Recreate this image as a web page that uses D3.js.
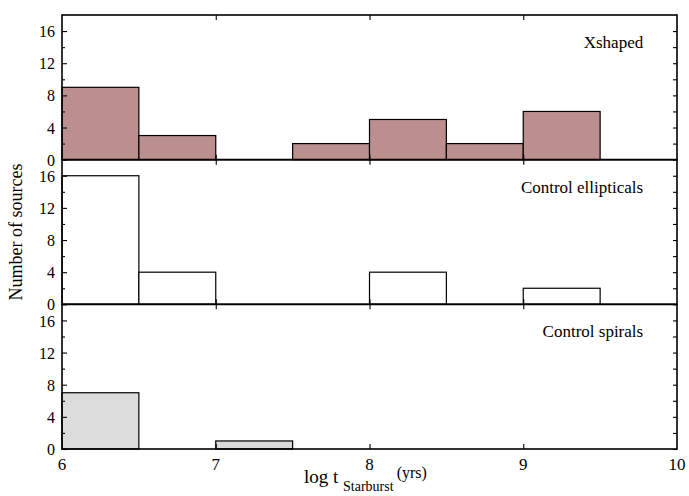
<!DOCTYPE html>
<html>
<head>
<meta charset="utf-8">
<script src="https://cdn.jsdelivr.net/npm/d3@7"></script>
<style>
  body { margin: 0; background: #fff; }
  text { font-family: "Liberation Serif", "DejaVu Serif", serif; fill: #000; }
</style>
</head>
<body>
<div class="container"></div>
<script>
// bin edges (log t) and counts per panel
const binEdges = [6, 6.5, 7, 7.5, 8, 8.5, 9, 9.5, 10];
const xshapedCounts = [9, 3, 0, 2, 5, 2, 6, 0];
const ellipticalCounts = [16, 4, 0, 0, 4, 0, 2, 0];
const spiralCounts = [7, 0, 1, 0, 0, 0, 0, 0];
const panelNames = ['Xshaped', 'Control ellipticals', 'Control spirals'];
const panelFills = ['#bc8f8f', '#ffffff', '#dcdcdc'];
const xTicks = [6, 7, 8, 9, 10];
const yTicks = [0, 4, 8, 12, 16];
const yMinorTicks = [2, 6, 10, 14];

const w = 689, h = 496,
    pad = { top: 15, bottom: 47, left: 62, right: 12 },
    panelH = (h - pad.top - pad.bottom) / 3;

const svg = d3.select("div.container")
    .append("svg")
    .attr("width", w)
    .attr("height", h);

const xScale = d3.scaleLinear()
    .domain([6, 10])
    .range([pad.left, w - pad.right]);

const allCounts = [xshapedCounts, ellipticalCounts, spiralCounts];

allCounts.forEach((counts, p) => {
    const top = pad.top + p * panelH,
        bottom = top + panelH;
    const yScale = d3.scaleLinear()
        .domain([0, 18])
        .range([bottom, top]);

    const g = svg.append("g").attr("class", "panel");

    // bars
    g.selectAll("rect")
        .data(counts.map((c, i) => ({ x0: binEdges[i], x1: binEdges[i + 1], c })).filter(d => d.c > 0))
        .enter()
        .append("rect")
        .attr("x", d => xScale(d.x0))
        .attr("width", d => xScale(d.x1) - xScale(d.x0))
        .attr("y", d => yScale(d.c))
        .attr("height", d => yScale(0) - yScale(d.c))
        .attr("fill", panelFills[p])
        .attr("stroke", "#000")
        .attr("stroke-width", 1.2);

    // left axis
    const left = g.append("g")
        .attr("transform", `translate(${pad.left},0)`)
        .call(d3.axisLeft(yScale).tickValues(yTicks).tickSize(-5).tickPadding(7).tickFormat(d3.format("d")));
    left.select(".domain").remove();
    left.selectAll("text").style("font-size", "16px").attr("dy", "0.35em");
    g.append("g")
        .attr("transform", `translate(${pad.left},0)`)
        .call(d3.axisLeft(yScale).tickValues(yMinorTicks).tickSize(-3).tickFormat(""))
        .select(".domain").remove();

    // right axis ticks
    const right = g.append("g")
        .attr("transform", `translate(${w - pad.right},0)`)
        .call(d3.axisRight(yScale).tickValues(yTicks.concat(yMinorTicks)).tickSize(-4).tickFormat(""));
    right.select(".domain").remove();

    // top and bottom ticks
    [top, bottom].forEach((yy, k) => {
        const ax = k === 0 ? d3.axisTop(xScale) : d3.axisBottom(xScale);
        const t = g.append("g")
            .attr("transform", `translate(0,${yy})`)
            .call(ax.tickValues(xTicks.slice(1, -1)).tickSize(-5).tickFormat(""));
        t.select(".domain").remove();
    });

    // frame
    g.append("rect")
        .attr("x", pad.left)
        .attr("y", top)
        .attr("width", w - pad.left - pad.right)
        .attr("height", panelH)
        .attr("fill", "none")
        .attr("stroke", "#000")
        .attr("stroke-width", 1.6);

    g.append("text")
        .attr("x", xScale(9.78))
        .attr("y", top + 33)
        .attr("text-anchor", "end")
        .style("font-size", "17px")
        .text(panelNames[p]);

    // x tick labels on the bottom panel only
    if (p === 2) {
        g.selectAll("text.xlab")
            .data(xTicks)
            .enter()
            .append("text")
            .attr("class", "xlab")
            .attr("x", d => xScale(d))
            .attr("y", bottom + 21)
            .attr("text-anchor", "middle")
            .style("font-size", "17px")
            .text(d => d);
    }
});

svg.selectAll(".tick line").attr("stroke", "#000").attr("stroke-width", 1.1);

// axis titles
const xl = svg.append("text")
    .attr("x", 304)
    .attr("y", 483)
    .style("font-size", "19px");
xl.append("tspan").text("log t ");
xl.append("tspan").attr("dy", 8).style("font-size", "14px").text("Starburst");
xl.append("tspan").attr("dx", 3).attr("dy", -13).style("font-size", "16px").text("(yrs)");

svg.append("text")
    .attr("transform", `translate(22,${pad.top + 1.5 * panelH}) rotate(-90)`)
    .attr("text-anchor", "middle")
    .style("font-size", "18px")
    .text("Number of sources");
</script>
</body>
</html>
